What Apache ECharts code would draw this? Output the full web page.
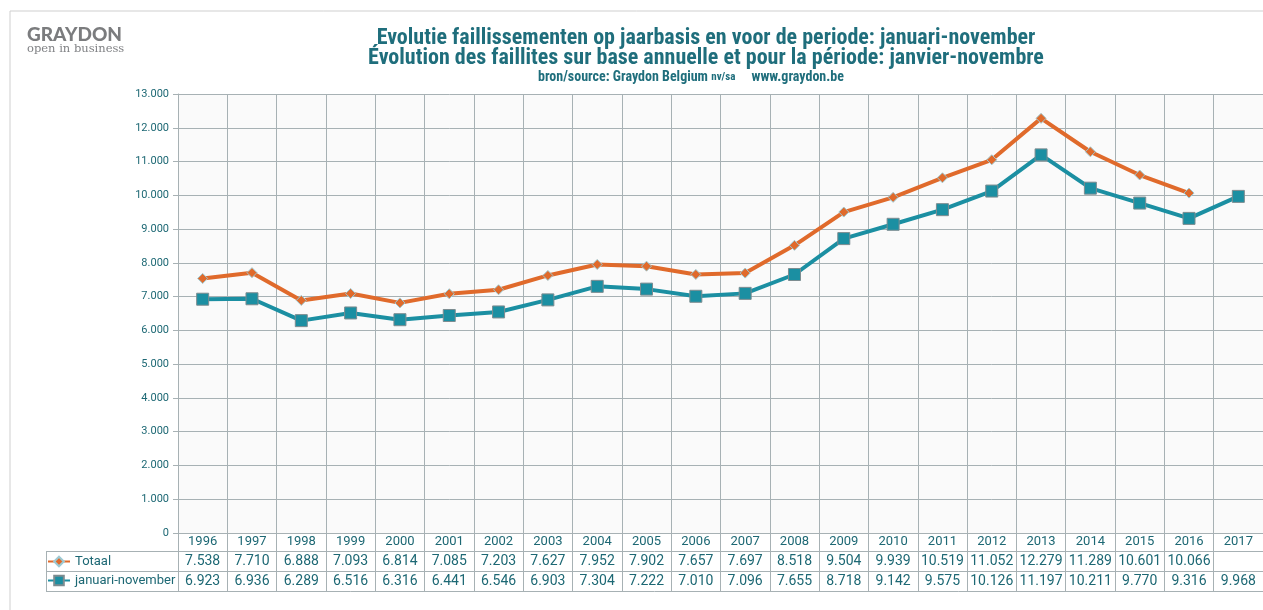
<!DOCTYPE html>
<html>
<head>
<meta charset="utf-8">
<script src="https://cdn.jsdelivr.net/npm/echarts@6/dist/echarts.min.js"></script>
<style>
html,body{margin:0;padding:0;background:#fff;}
#c{width:1263px;height:610px;}
</style>
</head>
<body>
<div id="c"></div>
<script>
const years = ['1996','1997','1998','1999','2000','2001','2002','2003','2004','2005','2006','2007','2008','2009','2010','2011','2012','2013','2014','2015','2016','2017'];
const totaal = [7538,7710,6888,7093,6814,7085,7203,7627,7952,7902,7657,7697,8518,9504,9939,10519,11052,12279,11289,10601,10066,null];
const janNov = [6923,6936,6289,6516,6316,6441,6546,6903,7304,7222,7010,7096,7655,8718,9142,9575,10126,11197,10211,9770,9316,9968];
const seriesNames = ['Totaal','januari-november'];
const titleLines = ['Evolutie faillissementen op jaarbasis en voor de periode: januari-november','Évolution des faillites sur base annuelle et pour la période: janvier-novembre'];

const TEAL_TEXT = '#1d6874';
const GRID = '#a7b1b4';
const fmt = v => (v === null || v === undefined) ? '' : String(v).replace(/\B(?=(\d{3})+(?!\d))/g, '.');

const chart = echarts.init(document.getElementById('c'), null, {renderer:'canvas'});
const TF = '"Roboto Condensed","Liberation Sans Narrow","Roboto",sans-serif';

const baseGraphic = [
  {type:'line', shape:{x1:10,y1:11,x2:1263,y2:11}, style:{stroke:'#cfcfcf', lineWidth:1}},
  {type:'line', shape:{x1:10,y1:11,x2:10,y2:610}, style:{stroke:'#cfcfcf', lineWidth:1}},
  {type:'line', shape:{x1:46,y1:551.5,x2:1263,y2:551.5}, style:{stroke:GRID, lineWidth:1}},
  {type:'line', shape:{x1:46,y1:571.5,x2:1263,y2:571.5}, style:{stroke:GRID, lineWidth:1}},
  {type:'line', shape:{x1:46,y1:591.5,x2:1263,y2:591.5}, style:{stroke:GRID, lineWidth:1}},
  {type:'line', shape:{x1:46.5,y1:551,x2:46.5,y2:592}, style:{stroke:GRID, lineWidth:1}},
  {type:'text', x:27, y:35, style:{text:'GRAYDON', fill:'#7b7c7e', font:'900 19px Lato, "Open Sans", sans-serif', align:'left', verticalAlign:'middle'}},
  {type:'text', x:27, y:49, style:{text:'open in business', fill:'#808285', font:'11.5px "DejaVu Serif", "Liberation Serif", serif', align:'left', verticalAlign:'middle'}},
  {type:'text', x:706, y:38, style:{text:titleLines[0], fill:'#1f6e7c', font:'bold 22px ' + TF, align:'center', verticalAlign:'middle'}},
  {type:'text', x:706, y:58, style:{text:titleLines[1], fill:'#1f6e7c', font:'bold 22px ' + TF, align:'center', verticalAlign:'middle'}},
  {type:'text', x:691, y:77.5, style:{
    text:'{a|bron/source: Graydon Belgium }{s|nv/sa}{a|     www.graydon.be}', align:'center', verticalAlign:'middle',
    rich:{a:{fill:'#1f6e7c', font:'bold 14px ' + TF}, s:{fill:'#1f6e7c', font:'bold 11px ' + TF}}
  }}
];

chart.setOption({
  animation:false,
  backgroundColor:'#ffffff',
  grid:{left:178, right:0, top:94, bottom:77, show:true, backgroundColor:'#fafafa', borderColor:GRID, borderWidth:0, containLabel:false},
  legend:{
    orient:'vertical', left:47, top:555, padding:0, itemGap:6, itemWidth:22, itemHeight:12,
    textStyle:{color:TEAL_TEXT, fontSize:13, fontFamily:'Roboto'},
    selectedMode:false,
    data:seriesNames
  },
  xAxis:{
    type:'category', data:years, boundaryGap:true,
    axisLine:{show:true, lineStyle:{color:GRID, width:1}},
    axisTick:{show:true, length:58, lineStyle:{color:GRID, width:1}},
    splitLine:{show:true, interval:0, lineStyle:{color:GRID, width:1}},
    axisLabel:{interval:0, margin:2, fontSize:13, color:TEAL_TEXT, fontFamily:'Roboto'}
  },
  yAxis:{
    type:'value', min:0, max:13000, interval:1000,
    axisLine:{show:true, lineStyle:{color:GRID}},
    axisTick:{show:true, length:5, lineStyle:{color:GRID}},
    splitLine:{show:true, lineStyle:{color:GRID, width:1}},
    axisLabel:{color:TEAL_TEXT, fontSize:11, fontFamily:'Roboto', margin:9, formatter:v => fmt(v)}
  },
  graphic:baseGraphic,
  series:[
    {name:seriesNames[0], type:'line', data:totaal, connectNulls:false,
     symbol:'diamond', symbolSize:10,
     lineStyle:{color:'#e06a2b', width:4},
     itemStyle:{color:'#e06a2b', borderColor:'#9cc9d3', borderWidth:1}},
    {name:seriesNames[1], type:'line', data:janNov,
     symbol:'rect', symbolSize:12,
     lineStyle:{color:'#1b8fa2', width:4},
     itemStyle:{color:'#1b8fa2', borderColor:'#7d8c90', borderWidth:1}}
  ]
});

// Data-table cells, placed at the category axis positions
const cells = [];
const rows = [[totaal, 561.5], [janNov, 581.5]];
years.forEach((yr, i) => {
  const x = chart.convertToPixel({xAxisIndex:0}, yr);
  rows.forEach(([arr, y]) => {
    if (arr[i] === null) return;
    cells.push({type:'text', x:x, y:y, style:{text:fmt(arr[i]), fill:TEAL_TEXT, font:'14px Roboto', align:'center', verticalAlign:'middle'}});
  });
});
chart.setOption({graphic:baseGraphic.concat(cells)}, {replaceMerge:['graphic']});
</script>
</body>
</html>
